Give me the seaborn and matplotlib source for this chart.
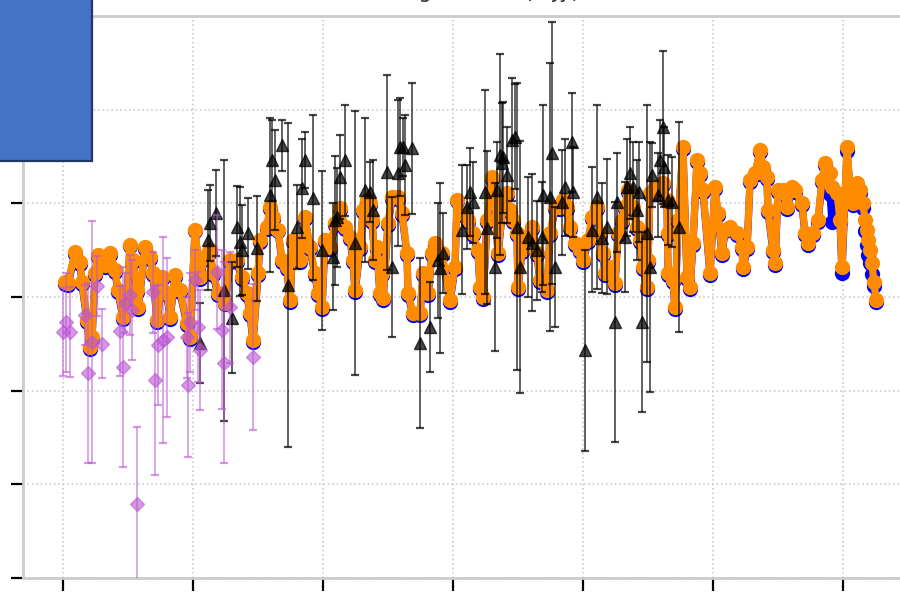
import matplotlib
matplotlib.use("Agg")
import matplotlib.pyplot as plt
from matplotlib.patches import Rectangle
import numpy as np
import seaborn as sns

# ---- data (time in years since start, flux in arbitrary units) ----
model_t = [0.015, 0.038, 0.092, 0.131, 0.146, 0.185, 0.208, 0.223, 0.246, 0.269,
           0.323, 0.362, 0.400, 0.423, 0.462, 0.492, 0.515, 0.538, 0.569, 0.577,
           0.631, 0.669, 0.692, 0.723, 0.762, 0.800, 0.823, 0.862, 0.900, 0.954,
           0.977, 1.015, 1.054, 1.092, 1.115, 1.131, 1.154, 1.192, 1.246, 1.285,
           1.338, 1.377, 1.415, 1.438, 1.462, 1.500, 1.515, 1.569, 1.592, 1.615,
           1.654, 1.685, 1.723, 1.746, 1.769, 1.823, 1.862, 1.900, 1.938, 1.962,
           1.992, 2.015, 2.054, 2.092, 2.131, 2.169, 2.208, 2.231, 2.246, 2.285,
           2.308, 2.338, 2.362, 2.377, 2.400, 2.415, 2.438, 2.454, 2.462, 2.500,
           2.531, 2.577, 2.608, 2.646, 2.654, 2.692, 2.746, 2.769, 2.808, 2.838,
           2.862, 2.915, 2.977, 3.015, 3.031, 3.069, 3.115, 3.154, 3.192, 3.208,
           3.231, 3.262, 3.300, 3.323, 3.346, 3.385, 3.415, 3.438, 3.462, 3.492,
           3.500, 3.531, 3.569, 3.608, 3.646, 3.669, 3.723, 3.746, 3.785, 3.823,
           3.846, 3.877, 3.900, 3.938, 3.977, 4.000, 4.038, 4.069, 4.108, 4.131,
           4.154, 4.169, 4.208, 4.246, 4.269, 4.300, 4.323, 4.346, 4.385, 4.415,
           4.438, 4.462, 4.492, 4.500, 4.515, 4.554, 4.592, 4.615, 4.646, 4.650,
           4.654, 4.692, 4.708, 4.731, 4.769, 4.800, 4.823, 4.846, 4.877, 4.900,
           4.923, 4.977, 5.015, 5.038, 5.069, 5.092, 5.131, 5.185, 5.223, 5.231,
           5.262, 5.285, 5.323, 5.362, 5.385, 5.415, 5.423, 5.462, 5.477, 5.500,
           5.538, 5.569, 5.608, 5.631, 5.685, 5.708, 5.731, 5.769, 5.808, 5.838,
           5.862, 5.900, 5.915, 5.954, 5.977, 5.992, 6.031, 6.054, 6.077, 6.108,
           6.131, 6.154, 6.169, 6.185, 6.192, 6.208, 6.223, 6.238, 6.254]

smooth_flux = [3.16, 3.15, 3.48, 3.37, 3.16, 2.75, 2.47, 2.57, 3.26, 3.45,
               3.34, 3.47, 3.29, 3.07, 2.79, 3.00, 3.56, 3.39, 3.07, 2.89,
               3.53, 3.43, 3.26, 2.75, 3.21, 3.04, 2.79, 3.23, 3.07, 2.72,
               2.57, 3.72, 3.21, 3.43, 3.47, 3.50, 3.26, 3.04, 2.94, 3.39,
               3.39, 3.21, 3.04, 2.83, 2.54, 3.26, 3.61, 3.75, 3.96, 3.85,
               3.72, 3.39, 3.32, 2.97, 3.61, 3.39, 3.85, 3.53, 3.26, 3.04,
               2.89, 3.61, 3.53, 3.79, 3.95, 3.75, 3.64, 3.39, 3.07, 3.53,
               3.93, 4.04, 4.00, 3.82, 3.39, 3.53, 3.04, 3.26, 2.99, 3.79,
               4.07, 4.07, 3.90, 3.47, 3.04, 2.83, 2.83, 3.26, 3.04, 3.47,
               3.58, 3.47, 2.97, 3.32, 4.04, 3.90, 3.82, 3.68, 3.50, 3.11,
               3.00, 3.82, 4.28, 4.04, 3.47, 4.00, 4.11, 3.93, 3.82, 3.68,
               3.11, 3.50, 3.64, 3.75, 3.47, 3.18, 3.07, 3.68, 3.96, 3.96,
               4.04, 3.96, 3.75, 3.58, 3.50, 3.39, 3.61, 3.85, 3.96, 3.68,
               3.47, 3.26, 3.32, 3.15, 3.68, 3.82, 3.96, 4.14, 3.96, 3.75,
               3.61, 3.32, 3.11, 3.39, 4.11, 4.17, 4.17, 4.22, 4.04, 3.68,
               3.26, 3.18, 2.89, 3.82, 4.60, 3.21, 3.11, 3.58, 4.46, 4.32,
               4.14, 3.26, 4.17, 3.90, 3.47, 3.72, 3.75, 3.68, 3.53, 3.32,
               3.53, 4.25, 4.32, 4.57, 4.39, 4.28, 3.93, 3.50, 3.36, 4.14,
               4.14, 3.96, 4.17, 4.14, 4.00, 3.68, 3.58, 3.68, 3.82, 4.25,
               4.43, 4.32, 4.17, 4.11, 3.82, 3.32, 4.60, 4.17, 4.00, 4.22,
               4.14, 4.00, 3.82, 3.72, 3.61, 3.50, 3.36, 3.16, 2.97]

raw_flux = [3.14, 3.13, 3.46, 3.35, 3.14, 2.73, 2.45, 2.55, 3.24, 3.43,
            3.32, 3.45, 3.27, 3.05, 2.77, 2.98, 3.54, 3.37, 3.05, 2.87,
            3.51, 3.41, 3.24, 2.73, 3.19, 3.02, 2.77, 3.21, 3.05, 2.70,
            2.55, 3.70, 3.19, 3.41, 3.45, 3.48, 3.24, 3.02, 2.92, 3.37,
            3.37, 3.19, 3.02, 2.81, 2.52, 3.24, 3.59, 3.73, 3.94, 3.83,
            3.70, 3.37, 3.30, 2.95, 3.59, 3.37, 3.83, 3.51, 3.24, 3.02,
            2.87, 3.59, 3.51, 3.77, 3.93, 3.73, 3.62, 3.37, 3.05, 3.51,
            3.91, 4.02, 3.98, 3.80, 3.37, 3.51, 3.02, 3.24, 2.97, 3.77,
            4.05, 4.05, 3.88, 3.45, 3.02, 2.81, 2.81, 3.24, 3.02, 3.45,
            3.56, 3.45, 2.95, 3.30, 4.02, 3.88, 3.80, 3.66, 3.48, 3.09,
            2.98, 3.80, 4.26, 4.02, 3.45, 3.98, 4.09, 3.91, 3.80, 3.66,
            3.09, 3.48, 3.62, 3.73, 3.45, 3.16, 3.05, 3.66, 3.94, 3.94,
            4.02, 3.94, 3.73, 3.56, 3.48, 3.37, 3.59, 3.83, 3.94, 3.66,
            3.45, 3.24, 3.30, 3.13, 3.66, 3.80, 3.94, 4.12, 3.94, 3.73,
            3.59, 3.30, 3.09, 3.37, 4.09, 4.15, 4.15, 4.20, 4.02, 3.66,
            3.24, 3.16, 2.87, 3.80, 4.58, 3.19, 3.09, 3.56, 4.44, 4.30,
            4.12, 3.24, 4.15, 3.88, 3.45, 3.70, 3.73, 3.66, 3.51, 3.30,
            3.51, 4.23, 4.30, 4.55, 4.37, 4.26, 3.91, 3.48, 3.34, 4.12,
            4.12, 3.94, 4.15, 4.12, 3.98, 3.66, 3.56, 3.66, 3.80, 4.23,
            4.41, 4.10, 3.80, 4.09, 3.80, 3.26, 4.56, 4.15, 3.98, 4.20,
            4.11, 3.95, 3.70, 3.55, 3.45, 3.36, 3.25, 3.12, 2.95]

survey_a_t = [1.054, 1.115, 1.131, 1.177, 1.238, 1.300, 1.338, 1.362, 1.377, 1.423,
              1.492, 1.592, 1.608, 1.631, 1.685, 1.731, 1.800, 1.838, 1.862, 1.923,
              1.992, 2.077, 2.092, 2.108, 2.131, 2.169, 2.246, 2.323, 2.362, 2.385,
              2.492, 2.531, 2.577, 2.592, 2.615, 2.631, 2.685, 2.746, 2.823, 2.885,
              2.900, 2.923, 3.069, 3.108, 3.131, 3.154, 3.246, 3.262, 3.323, 3.338,
              3.362, 3.377, 3.385, 3.415, 3.454, 3.477, 3.492, 3.515, 3.577, 3.608,
              3.646, 3.685, 3.692, 3.746, 3.762, 3.785, 3.838, 3.862, 3.915, 3.923,
              4.015, 4.069, 4.108, 4.146, 4.185, 4.246, 4.262, 4.323, 4.338, 4.362,
              4.385, 4.415, 4.431, 4.454, 4.492, 4.515, 4.531, 4.577, 4.592, 4.615,
              4.623, 4.654, 4.685, 4.738]
survey_a_flux = [2.51, 3.61, 3.79, 3.90, 3.07, 2.78, 3.75, 3.59, 3.50, 3.68,
                 3.52, 4.09, 4.46, 4.25, 4.62, 3.13, 3.75, 4.16, 4.46, 4.06,
                 3.50, 3.43, 3.82, 3.85, 4.28, 4.46, 3.58, 4.14, 4.12, 3.93,
                 4.33, 3.32, 4.32, 4.60, 4.60, 4.41, 4.59, 2.51, 2.68, 3.39,
                 3.31, 3.47, 3.72, 3.96, 4.12, 4.01, 4.12, 3.74, 3.32, 4.14,
                 4.52, 4.43, 4.49, 4.30, 4.68, 4.71, 3.75, 3.32, 3.64, 3.58,
                 3.50, 3.64, 4.09, 4.07, 4.54, 3.32, 4.01, 4.17, 4.65, 4.12,
                 2.43, 3.72, 4.07, 3.63, 3.75, 2.73, 4.01, 3.64, 4.17, 4.32,
                 4.17, 3.93, 4.12, 2.73, 3.68, 3.32, 4.30, 4.09, 4.46, 4.81,
                 4.39, 4.04, 4.01, 3.75]
survey_a_err = [0.43, 0.53, 0.41, 0.46, 1.39, 0.59, 0.43, 0.58, 0.48, 0.38,
                0.56, 0.82, 0.43, 0.53, 0.27, 1.73, 0.45, 0.53, 0.30, 0.88,
                0.85, 0.57, 0.69, 0.53, 0.45, 0.59, 1.41, 0.77, 0.32, 0.53,
                1.04, 0.75, 0.78, 0.52, 0.31, 0.53, 0.70, 0.91, 0.48, 0.61,
                0.91, 0.43, 0.69, 0.45, 0.47, 0.43, 1.09, 0.82, 0.90, 0.51,
                1.07, 0.64, 0.59, 0.51, 0.66, 0.56, 1.53, 1.35, 0.64, 0.73,
                0.53, 0.59, 0.96, 1.43, 1.40, 0.64, 0.56, 0.52, 0.53, 0.48,
                1.07, 0.67, 0.98, 0.59, 0.72, 1.28, 0.53, 0.59, 0.52, 0.49,
                0.48, 0.53, 0.53, 0.96, 1.37, 1.33, 0.34, 0.45, 0.43, 0.82,
                0.43, 0.48, 0.48, 1.12]

survey_b_t = [0.000, 0.023, 0.054, 0.169, 0.192, 0.223, 0.262, 0.300, 0.438, 0.462,
              0.477, 0.515, 0.531, 0.569, 0.692, 0.708, 0.731, 0.769, 0.800, 0.954,
              0.962, 0.977, 1.015, 1.038, 1.054, 1.185, 1.223, 1.238, 1.285, 1.462]
survey_b_flux = [2.63, 2.73, 2.63, 2.81, 2.19, 2.52, 3.12, 2.50, 2.64, 2.25,
                 2.94, 3.02, 2.86, 0.79, 3.05, 2.11, 2.49, 2.54, 2.57, 2.57,
                 2.06, 2.73, 3.18, 2.68, 2.43, 3.27, 2.65, 2.30, 2.89, 2.36]
survey_b_err = [0.47, 0.53, 0.48, 0.32, 0.96, 1.29, 0.32, 0.37, 0.48, 1.07,
                0.32, 0.43, 0.53, 0.82, 0.43, 1.01, 0.64, 1.10, 0.85, 0.43,
                0.77, 0.53, 0.32, 0.59, 0.64, 0.61, 0.85, 1.07, 0.59, 0.78]

x_ticks = [0, 1, 2, 3, 4, 5, 6]
y_ticks = [0, 1, 2, 3, 4, 5, 6]

# ---- figure ----
sns.set_style("white")
plt.rcParams["font.family"] = ["DejaVu Sans"]

fig = plt.figure(figsize=(9, 5.93), dpi=100)
ax = fig.add_axes([23 / 900, 15 / 593, 934 / 900, 562 / 593])

sns.lineplot(x=np.array(model_t), y=np.array(raw_flux), sort=False, estimator=None,
             color="blue", marker="o", markersize=11, linewidth=5.2,
             markeredgecolor="blue", markeredgewidth=0, ax=ax, zorder=2)
sns.lineplot(x=np.array(model_t), y=np.array(smooth_flux), sort=False, estimator=None,
             color="darkorange", marker="o", markersize=11, linewidth=5.2,
             markeredgecolor="darkorange", markeredgewidth=0, ax=ax, zorder=3)

ax.errorbar(survey_a_t, survey_a_flux, yerr=survey_a_err, fmt="^", color="black",
            alpha=0.72, ms=8, capsize=3, elinewidth=1.2, capthick=1.6, zorder=5)
ax.errorbar(survey_b_t, survey_b_flux, yerr=survey_b_err, fmt="D", color="mediumorchid",
            alpha=0.6, ms=7, capsize=3, elinewidth=1.2, capthick=1.6, zorder=6)

ax.set_xlim(-0.308, 6.877)
ax.set_ylim(0, 6)
ax.set_xticks(x_ticks)
ax.set_yticks(y_ticks)
ax.tick_params(direction="out", length=9, width=1.6, color="black",
               bottom=True, left=True, labelleft=False, labelbottom=False)
ax.grid(True, linestyle=":", color="#cccccc", linewidth=1.2)
for side in ("left", "bottom", "top"):
    ax.spines[side].set_color("#cccccc")
    ax.spines[side].set_linewidth(2)
ax.spines["right"].set_visible(False)
ax.set_xlabel("")
ax.set_ylabel("")

ax.set_title("Light curve (mJy)", fontsize=15, pad=13, color="#333333")

# legend panel in the upper-left corner
fig.add_artist(Rectangle((-0.01, 1 - 161 / 593), 0.01 + 92 / 900, 161 / 593 + 0.01,
                         transform=fig.transFigure, facecolor="#4472C4",
                         edgecolor="#1F3864", linewidth=1.6, zorder=10))

fig.savefig("out.png", dpi=100)
